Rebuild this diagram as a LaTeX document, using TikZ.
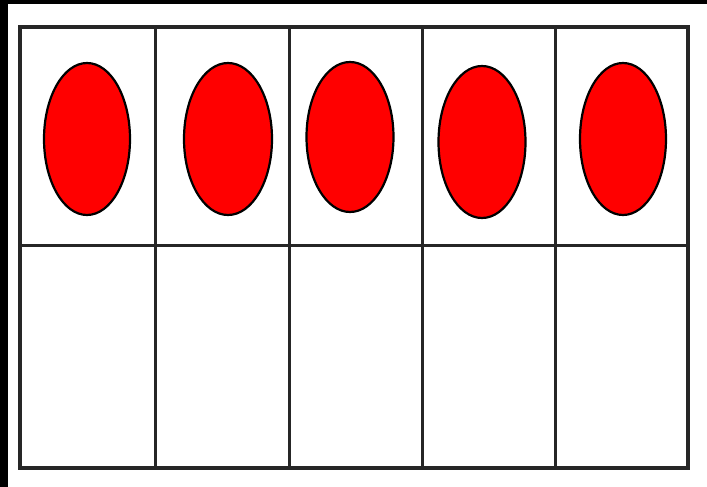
\documentclass[tikz,border=0pt]{standalone}
\usepackage{tikz}

\begin{document}
\begin{tikzpicture}[x=1pt,y=-1pt]
  \useasboundingbox (0,0) rectangle (707,487);
  \fill[black] (0,0) rectangle (707,487);
  \fill[white] (8,4) rectangle (707,487);
  \coordinate (c1) at (87,139);
  \coordinate (c2) at (228,139);
  \coordinate (c3) at (350,137);
  \coordinate (c4) at (482,142);
  \coordinate (c5) at (623,139);
  \fill[red,draw=black,line width=2.2pt] (c1) ellipse (43 and 76);
  \fill[red,draw=black,line width=2.2pt] (c2) ellipse (44 and 76);
  \fill[red,draw=black,line width=2.2pt] (c3) ellipse (43.5 and 75);
  \fill[red,draw=black,line width=2.2pt] (c4) ellipse (43.5 and 76);
  \fill[red,draw=black,line width=2.2pt] (c5) ellipse (43 and 76);
  \draw[line width=3.5pt,black!85] (20,27) rectangle (688,468);
  \draw[line width=3pt,black!85] (20,245) -- (688,245);
  \draw[line width=3pt,black!85] (155,27) -- (155,468);
  \draw[line width=3pt,black!85] (289,27) -- (289,468);
  \draw[line width=3pt,black!85] (422,27) -- (422,468);
  \draw[line width=3pt,black!85] (555,27) -- (555,468);
\end{tikzpicture}
\end{document}
